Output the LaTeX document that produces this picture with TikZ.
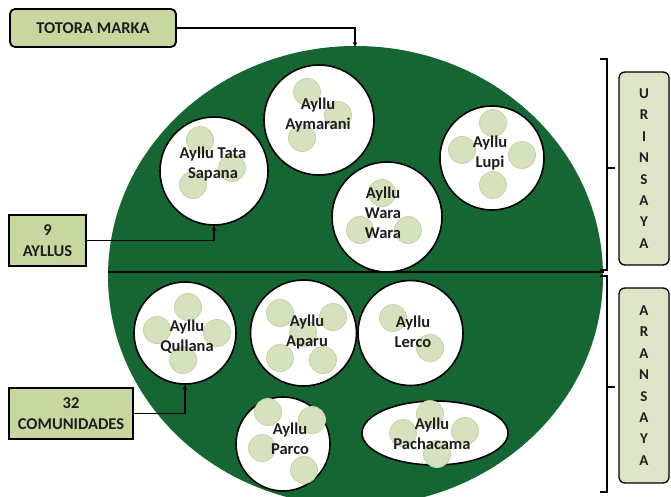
\documentclass[tikz,border=0pt]{standalone}
\usepackage{fontspec}
\setmainfont{Carlito}
\usetikzlibrary{arrows.meta,shapes.geometric}
\definecolor{dkgreen}{RGB}{22,102,52}
\definecolor{boxgreen}{RGB}{200,214,160}
\definecolor{sidebox}{RGB}{222,228,200}
\definecolor{dotfill}{RGB}{214,226,190}
\definecolor{dotline}{RGB}{194,210,164}
\definecolor{txt}{RGB}{30,30,30}
\begin{document}
\begin{tikzpicture}[x=1pt,y=-1pt,
  ayllu/.style={circle,draw=black,line width=1.6pt,fill=white,inner sep=0pt},
  lbl/.style={font=\fontsize{16.5}{20}\selectfont\bfseries,align=center,text=txt,inner sep=0pt},
  boxlbl/.style={font=\fontsize{16.5}{20.5}\selectfont\bfseries,align=center,text=txt,inner sep=0pt},
  sidelbl/.style={font=\fontsize{15}{21.4}\selectfont\bfseries,align=center,text=txt,inner sep=0pt},
  infobox/.style={rectangle,draw=black,line width=1.8pt,fill=boxgreen},
  sidebx/.style={rectangle,rounded corners=6pt,draw=black,line width=1.3pt,fill=sidebox},
  conn/.style={draw=black,line width=1.4pt,-{Stealth[length=5pt,width=4.5pt]}},
  brk/.style={draw=black,line width=1.4pt}
]
\useasboundingbox (0,0) rectangle (671,497);
\begin{scope}
\clip (0,0) rectangle (671,497);
\fill[dkgreen] (355.5,276) ellipse [x radius=247.5pt, y radius=230pt];
\end{scope}
\draw[line width=2pt] (108,272) -- (604,272);

% ayllu circles
\node[ayllu,minimum size=108pt] (tata) at (214,171) {};
\node[ayllu,minimum size=110pt] (aymarani) at (319,120) {};
\node[ayllu,minimum size=110pt] (wara) at (387,217) {};
\node[ayllu,minimum size=104pt] (lupi) at (492,158) {};
\node[ayllu,minimum size=102pt] (qullana) at (185,333) {};
\node[ayllu,minimum size=106pt] (aparu) at (303.5,333) {};
\node[ayllu,minimum size=105pt] (lerco) at (410.5,333) {};
\node[ayllu,minimum size=94pt] (parco) at (283,444) {};
\node[ayllu,ellipse,minimum width=146pt,minimum height=64pt] (pacha) at (435,433) {};

% community dots
\foreach \p in {(200,140),(232,168),(193,185),
                (307,92),(338,115),(302,138),
                (382,193),(360,230),(408,230),
                (493,123),(462,150),(522,155),(493,185),
                (188,307),(157,330),(217,333),(183,360),
                (280,313),(333,317),(303,333),(280,358),(323,360),
                (393,318),(430,348),
                (268,412),(312,420),(262,448),(304,470),
                (430,414),(403,433),(465,431),(437,454)}
  \filldraw[fill=dotfill,draw=dotline,line width=0.8pt] \p circle[radius=13.5pt];

% labels
\node[lbl] (ltata) at (213,164) {Ayllu Tata\\Sapana};
\node[lbl] (laym) at (318,115) {Ayllu\\Aymarani};
\node[lbl] (lwara) at (383,213) {Ayllu\\Wara\\Wara};
\node[lbl] (llupi) at (490,153) {Ayllu\\Lupi};
\node[lbl] (lqul) at (187,337) {Ayllu\\Qullana};
\node[lbl] (lapa) at (307,332) {Ayllu\\Aparu};
\node[lbl] (llerco) at (413,332) {Ayllu\\Lerco};
\node[lbl] (lparco) at (290,439) {Ayllu\\Parco};
\node[lbl] (lpacha) at (432,434) {Ayllu\\Pachacama};

% info boxes
\node[infobox,rounded corners=5pt,minimum width=166pt,minimum height=38pt] (totora) at (93,28) {};
\node[boxlbl] at (totora) {TOTORA MARKA};
\node[infobox,minimum width=77pt,minimum height=51pt] (ayllus) at (47.5,240.5) {};
\node[boxlbl] at (ayllus) {9\\AYLLUS};
\node[infobox,minimum width=124pt,minimum height=51pt] (comun) at (71,413.5) {};
\node[boxlbl] at (comun) {32\\COMUNIDADES};

% side boxes
\node[sidebx,minimum width=50pt,minimum height=193pt] (urin) at (644,168.5) {};
\node[sidelbl] at (urin) {U\\R\\I\\N\\S\\A\\Y\\A};
\node[sidebx,minimum width=50pt,minimum height=195pt] (aran) at (644,385.5) {};
\node[sidelbl] at (aran) {A\\R\\A\\N\\S\\A\\Y\\A};

% brackets
\draw[brk] (600,59) -- (607,59) -- (607,270) -- (600,270);
\draw[brk] (607,168) -- (615,168);
\draw[brk] (600,276) -- (607,276) -- (607,492) -- (600,492);
\draw[brk] (607,387) -- (615,387);

% connectors
\coordinate (ellTop) at (355,47);
\draw[conn] (totora.east) -| (ellTop);
\draw[conn] (ayllus.east) -| (tata.south);
\draw[conn] (comun.east) -| (qullana.south);
\end{tikzpicture}
\end{document}
